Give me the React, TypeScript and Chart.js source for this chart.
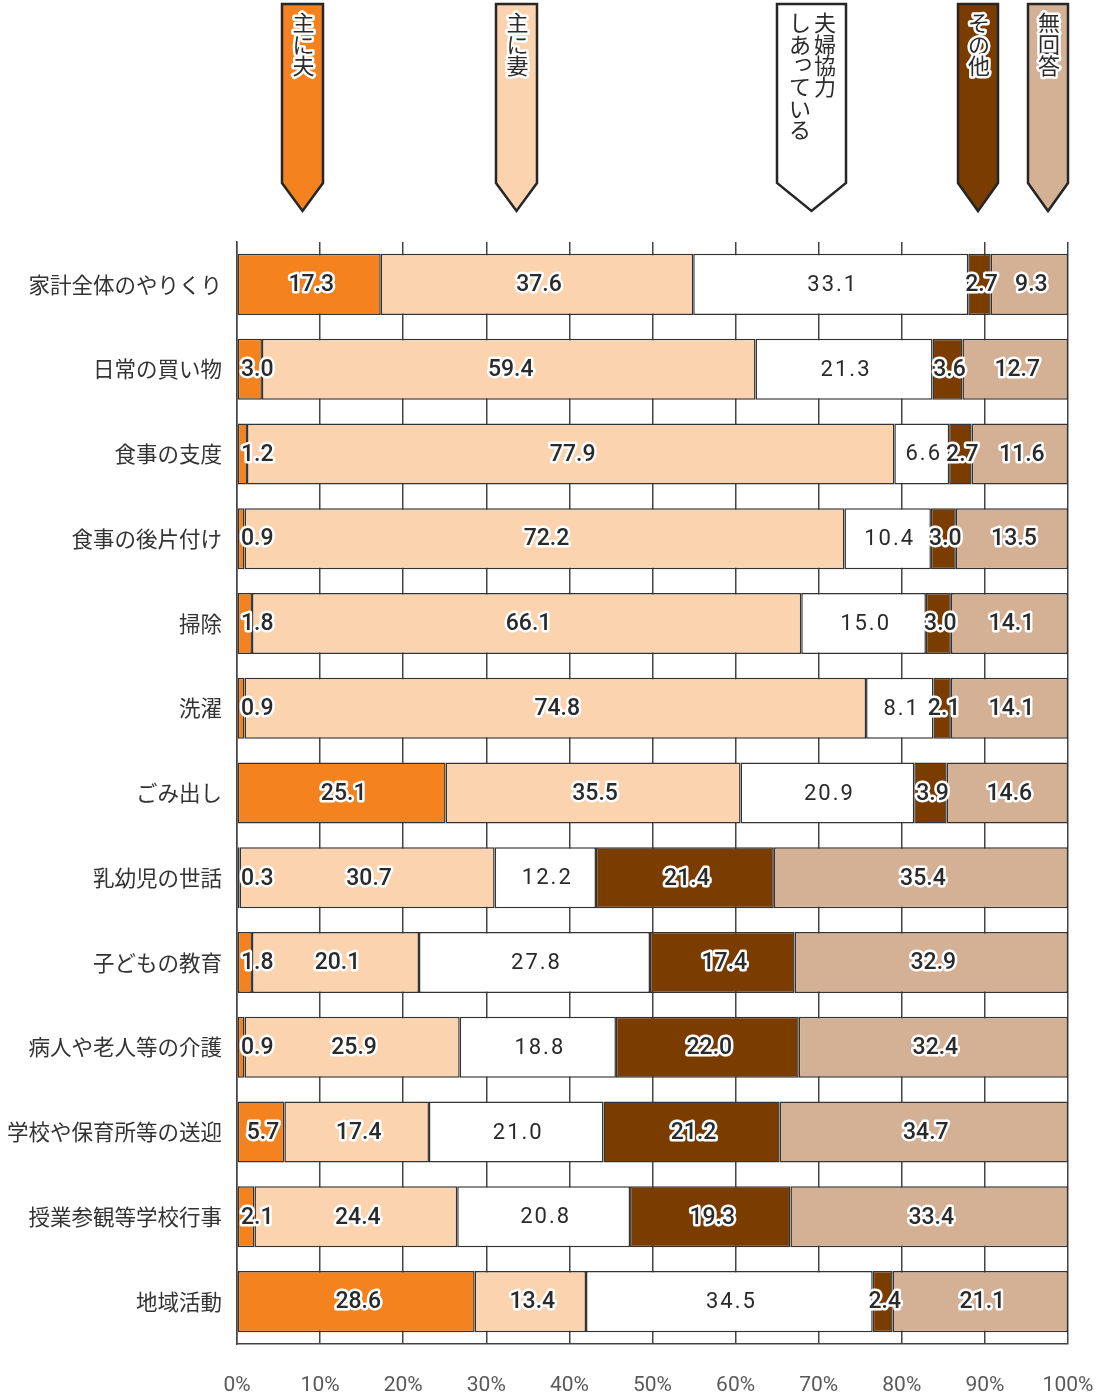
import { useEffect, useRef } from "react";
import { Chart, registerables } from "chart.js";

Chart.register(...registerables);

const categories = [
  "家計全体のやりくり",
  "日常の買い物",
  "食事の支度",
  "食事の後片付け",
  "掃除",
  "洗濯",
  "ごみ出し",
  "乳幼児の世話",
  "子どもの教育",
  "病人や老人等の介護",
  "学校や保育所等の送迎",
  "授業参観等学校行事",
  "地域活動",
];

const seriesNames = ["主に夫", "主に妻", "夫婦協力しあっている", "その他", "無回答"];

const husband = [17.3, 3.0, 1.2, 0.9, 1.8, 0.9, 25.1, 0.3, 1.8, 0.9, 5.7, 2.1, 28.6];
const wife = [37.6, 59.4, 77.9, 72.2, 66.1, 74.8, 35.5, 30.7, 20.1, 25.9, 17.4, 24.4, 13.4];
const cooperate = [33.1, 21.3, 6.6, 10.4, 15.0, 8.1, 20.9, 12.2, 27.8, 18.8, 21.0, 20.8, 34.5];
const other = [2.7, 3.6, 2.7, 3.0, 3.0, 2.1, 3.9, 21.4, 17.4, 22.0, 21.2, 19.3, 2.4];
const noAnswer = [9.3, 12.7, 11.6, 13.5, 14.1, 14.1, 14.6, 35.4, 32.9, 32.4, 34.7, 33.4, 21.1];

const xTickValues = [0, 10, 20, 30, 40, 50, 60, 70, 80, 90, 100];

const seriesColors = ["#F4821F", "#FBD3AE", "#FFFFFF", "#7B3C00", "#D4B095"];

// legend pennant layout: [left, right] in px, and text columns (right column first)
const legendBoxes: [number, number][] = [
  [282, 323],
  [496, 537],
  [777, 846],
  [958, 998],
  [1028, 1068],
];
const legendColumns: string[][] = [["主に夫"], ["主に妻"], ["夫婦協力", "しあっている"], ["その他"], ["無回答"]];

const W = 1101;
const H = 1395;

const pennantPlugin = {
  id: "pennants",
  afterDraw(chart: any) {
    const ctx = chart.ctx as CanvasRenderingContext2D;
    ctx.save();
    legendBoxes.forEach(([l, r], i) => {
      const cx = (l + r) / 2;
      ctx.beginPath();
      ctx.moveTo(l, 4);
      ctx.lineTo(r, 4);
      ctx.lineTo(r, 183);
      ctx.lineTo(cx, 211);
      ctx.lineTo(l, 183);
      ctx.closePath();
      ctx.fillStyle = seriesColors[i];
      ctx.fill();
      ctx.lineWidth = 2.5;
      ctx.strokeStyle = "#262626";
      ctx.lineJoin = "miter";
      ctx.stroke();

      const cols = legendColumns[i];
      const n = cols.length;
      const colGap = 25;
      cols.forEach((col, ci) => {
        const colX = n === 1 ? cx + 1 : cx + ((n - 1) / 2 - ci) * colGap + 1;
        Array.from(col).forEach((ch, k) => {
          let px = colX;
          let py = 23 + k * 21.3;
          const small = ch === "っ";
          ctx.font = "22px 'Noto Sans CJK JP'";
          ctx.textAlign = "center";
          ctx.textBaseline = "middle";
          if (small) {
            px += 3;
            py -= 4;
          }
          if (i !== 2) {
            ctx.lineWidth = 5;
            ctx.strokeStyle = "#ffffff";
            ctx.lineJoin = "round";
            ctx.strokeText(ch, px, py);
          }
          ctx.fillStyle = "#2b2b2b";
          ctx.fillText(ch, px, py);
        });
      });
    });
    ctx.restore();
  },
};

const labelPlugin = {
  id: "segLabels",
  afterDatasetsDraw(chart: any) {
    const ctx = chart.ctx as CanvasRenderingContext2D;
    const left = chart.chartArea.left;
    chart.data.datasets.forEach((ds: any, di: number) => {
      const meta = chart.getDatasetMeta(di);
      meta.data.forEach((bar: any, i: number) => {
        const v = ds.data[i] as number;
        const { x, y, base } = bar.getProps(["x", "y", "base"], true);
        const text = v.toFixed(1);
        ctx.save();
        const plain = di === 2;
        ctx.font = plain ? "400 22px Roboto" : "500 23px Roboto";
        (ctx as any).letterSpacing = plain ? "2px" : "0px";
        const w = ctx.measureText(text).width;
        let cx = (x + base) / 2 + 2;
        if (cx - w / 2 < left + 4) cx = left + 4 + w / 2;
        ctx.textAlign = "center";
        ctx.textBaseline = "middle";
        if (!plain) {
          ctx.lineWidth = 5;
          ctx.strokeStyle = "#ffffff";
          ctx.lineJoin = "round";
          ctx.strokeText(text, cx, y + 1);
        }
        ctx.fillStyle = "#2a2a2a";
        ctx.fillText(text, cx, y + 1);
        ctx.restore();
      });
    });
  },
};

export default function App() {
  const ref = useRef<HTMLCanvasElement | null>(null);

  useEffect(() => {
    document.body.style.margin = "0";
    const canvas = ref.current;
    if (!canvas) return;
    const seriesData = [husband, wife, cooperate, other, noAnswer];
    const chart = new Chart(canvas, {
      type: "bar",
      data: {
        labels: categories,
        datasets: seriesNames.map((name, i) => ({
          label: name,
          data: seriesData[i],
          backgroundColor: seriesColors[i],
          borderColor: "#333333",
          borderWidth: 1.5,
          borderSkipped: false,
          barPercentage: 0.72,
          categoryPercentage: 1,
        })),
      },
      options: {
        indexAxis: "y",
        responsive: false,
        animation: false,
        devicePixelRatio: 1,
        layout: { padding: { top: 242, right: 33, left: 0, bottom: 0 } },
        plugins: {
          legend: { display: false },
          tooltip: { enabled: false },
          title: { display: false },
        },
        scales: {
          x: {
            stacked: true,
            min: 0,
            max: 100,
            afterBuildTicks: (scale: any) => {
              scale.ticks = xTickValues.map((v) => ({ value: v }));
            },
            afterFit: (scale: any) => {
              scale.height = 51;
              scale.paddingLeft = 0;
              scale.paddingRight = 0;
            },
            ticks: {
              callback: (v: any) => `${v}%`,
              color: "#595959",
              font: { family: "Roboto", size: 21 },
              padding: 29,
              maxRotation: 0,
              autoSkip: false,
            },
            grid: { color: "#444444", lineWidth: 1.5, drawTicks: false },
            border: { display: true, color: "#444444", width: 1.5 },
          },
          y: {
            stacked: true,
            afterFit: (scale: any) => {
              scale.width = 237;
            },
            ticks: {
              color: "#333333",
              font: { family: "'Noto Sans CJK JP'", size: 21.5 },
              padding: 15,
              autoSkip: false,
            },
            grid: { display: true, drawOnChartArea: false, drawTicks: false },
            border: { display: true, color: "#444444", width: 1.5 },
          },
        },
      },
      plugins: [labelPlugin, pennantPlugin],
    } as any);
    return () => chart.destroy();
  }, []);

  return (
    <div style={{ width: W, height: H, background: "#ffffff" }}>
      <canvas ref={ref} width={W} height={H} style={{ display: "block", width: W, height: H }} />
    </div>
  );
}
